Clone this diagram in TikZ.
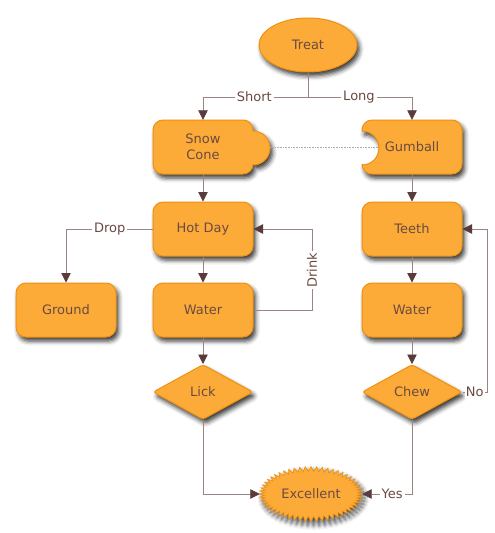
\documentclass[tikz,border=0pt]{standalone}
\usepackage{fontspec}
\setmainfont{DejaVu Sans}
\usetikzlibrary{shapes.geometric,arrows.meta,shadows.blur}
\definecolor{boxfill}{HTML}{FCAB38}
\definecolor{boxdraw}{HTML}{F0900F}
\definecolor{txtc}{HTML}{6B4A42}
\definecolor{linec}{HTML}{9A8484}
\definecolor{tipc}{HTML}{5A3A3A}
\tikzset{
  every node/.style={font=\fontsize{13}{15.5}\selectfont, text=txtc},
  shade/.style={blur shadow={shadow xshift=2.5pt,shadow yshift=-4pt,shadow blur radius=4.5pt,shadow opacity=80}},
  shapebox/.style={fill=boxfill, draw=boxdraw, line width=1pt, shade},
  card/.style={shapebox, rectangle, rounded corners=10pt, minimum width=100pt, minimum height=54pt},
  decide/.style={shapebox, diamond, rounded corners=3pt, inner sep=0pt, minimum width=100pt, minimum height=55pt},
  ghost/.style={rectangle, minimum width=100pt, minimum height=54pt, align=center},
  lbl/.style={fill=white, inner sep=2pt},
  link/.style={draw=linec, line width=0.8pt},
  arr/.style={link, -{Triangle[length=9.5pt,width=9.5pt,color=tipc]}}
}
\begin{document}
\begin{tikzpicture}[x=1pt,y=1pt]
\useasboundingbox (0,0) rectangle (495,-533);
% Treat
\node[shapebox, ellipse, minimum width=98pt, minimum height=54pt] (treat) at (308,-45) {Treat};
% Snow Cone shape
\draw[shapebox] (253,-131) -- (253,-130) arc[start angle=0,end angle=90,radius=10]
  -- (163,-120) arc[start angle=90,end angle=180,radius=10]
  -- (153,-164) arc[start angle=180,end angle=270,radius=10]
  -- (243,-174) arc[start angle=270,end angle=360,radius=10]
  -- (253,-165) arc[start angle=-90,end angle=90,radius=17] -- cycle;
\node[ghost] (snow) at (203,-147) {Snow\\Cone};
% Gumball shape
\draw[shapebox] (362,-131) -- (362,-130) arc[start angle=180,end angle=90,radius=10]
  -- (452,-120) arc[start angle=90,end angle=0,radius=10]
  -- (462,-164) arc[start angle=0,end angle=-90,radius=10]
  -- (372,-174) arc[start angle=-90,end angle=-180,radius=10]
  -- (362,-165) arc[start angle=-90,end angle=90,radius=17] -- cycle;
\node[ghost] (gum) at (412,-147) {Gumball};
% cards
\node[card] (hot) at (203,-229) {Hot Day};
\node[card] (ground) at (66,-310) {Ground};
\node[card] (wl) at (203,-310) {Water};
\node[card] (teeth) at (412,-229) {Teeth};
\node[card] (wr) at (412,-310) {Water};
\node[decide] (lick) at (203,-392) {Lick};
\node[decide] (chew) at (412,-392) {Chew};
% Excellent starburst
\coordinate (excc) at (311,-494);
\draw[shapebox, line width=0.6pt, shift={(excc)}] plot[domain=-180:180, samples=113]
  ({(49+2.5*cos(56*\x))*cos(\x)}, {(25+2.5*cos(56*\x))*sin(\x)}) -- cycle;
\node[ellipse, minimum width=102pt, minimum height=54pt, inner sep=0pt] (exc) at (excc) {Excellent};
% connectors
\draw[link] (treat.south) -- (treat.south |- 0,-97) coordinate (split);
\draw[arr] (split) -| node[lbl,pos=0.256]{Short} (snow.north);
\draw[arr] (split) -| node[lbl,pos=0.245]{Long} (gum.north);
\draw[densely dotted, draw=linec!70, line width=0.6pt] ([xshift=17pt]snow.east) -- ([xshift=17pt]gum.west);
\draw[arr] (snow.south) -- (hot.north);
\draw[arr] (gum.south) -- (teeth.north);
\draw[arr] (hot.south) -- (wl.north);
\draw[arr] (teeth.south) -- (wr.north);
\draw[arr] (wl.south) -- (lick.north);
\draw[arr] (wr.south) -- (chew.north);
\draw[arr] (hot.west) -| node[lbl,pos=0.247]{Drop} (ground.north);
\draw[arr] (wl.east) -- (wl.east -| 312,0) |- node[lbl,rotate=90,pos=0.247]{Drink} (hot.east);
\draw[arr] (chew.east) -- node[lbl,inner sep=1pt]{No} (chew.east -| 487,0) |- (teeth.east);
\draw[arr] (chew.south) |- node[lbl,pos=0.7]{Yes} (exc.east);
\draw[arr] (lick.south) |- (exc.west);
\end{tikzpicture}
\end{document}
